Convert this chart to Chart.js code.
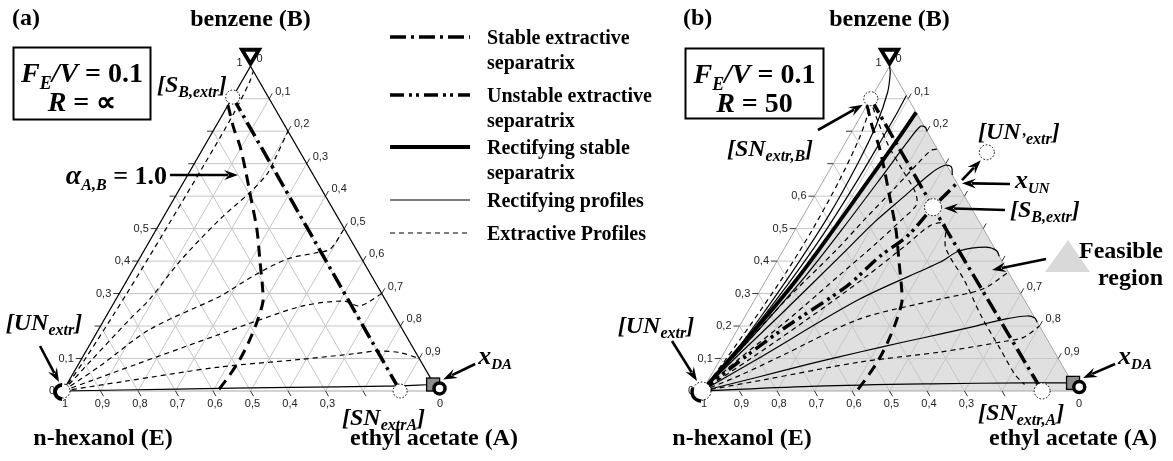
<!DOCTYPE html>
<html lang="en">
<head>
<meta charset="utf-8">
<title>Extractive distillation – ternary maps</title>
<script src="https://cdn.jsdelivr.net/npm/chart.js@4.4.1/dist/chart.umd.min.js"></script>
<style>
  html, body { margin:0; padding:0; background:#fff; }
  #wrap { position:relative; width:1173px; height:461px; }
</style>
</head>
<body>
<div id="wrap"><canvas id="map" width="1173" height="461"></canvas></div>
<script>
// Compositions are [xA, xB] mole fractions (ethyl acetate, benzene); xE = 1 - xA - xB.
const H = Math.sqrt(3) / 2;
const PANEL_A = 0;       // horizontal offset of diagram (a), in side lengths
const PANEL_B = 1.704;   // horizontal offset of diagram (b)

// ---------- shared ----------
const alphaAB = [[0,0.88],[0.05,0.81],[0.095,0.754],[0.15,0.675],[0.2,0.6],[0.268,0.498],[0.327,0.397],[0.372,0.32],[0.396,0.274],[0.411,0.212],[0.42,0.15],[0.423,0.098],[0.42,0.05],[0.413,0]];
const gridSteps = [0.1,0.2,0.3,0.4,0.5,0.6,0.7,0.8,0.9];

// ---------- diagram (a): FE/V = 0.1, R = infinity ----------
const aStableSep = [[0,0.905],[0.45,0.452],[0.899,0]];
const aExtr1 = [[0,0],[0.01,0.1],[0.02,0.3],[0.025,0.5],[0.028,0.7],[0.028,0.85],[0.022,0.95],[0.015,0.985]];
const aExtr2 = [[0,0],[0.03,0.1],[0.068,0.222],[0.09,0.283],[0.112,0.4],[0.154,0.529],[0.193,0.612],[0.21,0.668],[0.208,0.714],[0.2,0.8]];
const aExtr3 = [[0,0],[0.06,0.077],[0.137,0.19],[0.273,0.292],[0.33,0.354],[0.394,0.406],[0.46,0.425],[0.494,0.437],[0.5,0.5]];
const aExtr4 = [[0,0],[0.06,0.032],[0.15,0.08],[0.331,0.175],[0.401,0.212],[0.509,0.262],[0.609,0.277],[0.661,0.262],[0.7,0.3]];
const aExtr5 = [[0,0],[0.15,0.03],[0.382,0.074],[0.591,0.098],[0.72,0.115],[0.776,0.123],[0.84,0.118],[0.9,0.1]];
const aRectLeft = [[0,0],[0,1]];
const aRectRight = [[0,1],[1,0]];
const aRectBottom = [[0,0],[0.3,0.006],[0.6,0.011],[0.85,0.015],[0.977,0.02]];
const aApex = [0,1], aSB = [0,0.905], aSNA = [0.899,0], aUN = [0,0], aXDA = [0.977,0.02], aRing = [1,0.008];

// ---------- diagram (b): FE/V = 0.1, R = 50 ----------
const bRectSep = [[0,0],[0.05,0.2],[0.081,0.345],[0.1,0.48],[0.12,0.65],[0.135,0.78],[0.142,0.858]];
const bRect1 = [[0,0],[0.025,0.1],[0.045,0.25],[0.06,0.4],[0.068,0.55],[0.065,0.7],[0.055,0.82],[0.035,0.92],[0.012,0.98],[0,1]];
const bRect2 = [[0,0],[0.04,0.18],[0.065,0.33],[0.082,0.48],[0.09,0.64],[0.092,0.78],[0.092,0.86],[0.09,0.91]];
const bRect3 = [[0,0],[0.06,0.2],[0.098,0.35],[0.125,0.5],[0.148,0.65],[0.165,0.77],[0.175,0.815],[0.19,0.812],[0.2,0.8]];
const bRect4 = [[0,0],[0.045,0.12],[0.09,0.23],[0.169,0.437],[0.2,0.52],[0.24,0.6],[0.275,0.67],[0.3,0.695],[0.32,0.69],[0.335,0.665]];
const bRect5 = [[0,0],[0.1,0.1],[0.279,0.283],[0.437,0.397],[0.47,0.431],[0.535,0.443],[0.57,0.432],[0.585,0.415]];
const bRect6 = [[0,0],[0.12,0.04],[0.25,0.085],[0.361,0.12],[0.46,0.15],[0.547,0.175],[0.63,0.2],[0.7,0.222],[0.752,0.231],[0.775,0.225],[0.788,0.212]];
const bRect7 = [[0,0],[0.3,0.015],[0.6,0.022],[0.85,0.025],[0.977,0.025]];
const bExtr1 = [[0,0],[0.015,0.1],[0.032,0.25],[0.042,0.37],[0.046,0.5],[0.042,0.65],[0.03,0.78],[0.012,0.87],[0,0.9]];
const bExtr2 = [[0,0],[0.04,0.13],[0.08,0.27],[0.142,0.437],[0.17,0.53],[0.2,0.62],[0.225,0.7],[0.24,0.74],[0.255,0.745]];
const bExtr3 = [[0,0],[0.05,0.1],[0.12,0.22],[0.19,0.36],[0.235,0.45],[0.27,0.53],[0.285,0.575],[0.26,0.615],[0.2,0.675],[0.12,0.755],[0.05,0.835],[0.01,0.885]];
const bExtr4 = [[0,0],[0.08,0.1],[0.17,0.22],[0.26,0.35],[0.32,0.45],[0.355,0.51],[0.39,0.515],[0.43,0.44],[0.53,0.34],[0.63,0.23],[0.73,0.13],[0.81,0.05],[0.85,0.02]];
const bExtr5 = [[0,0],[0.08,0.05],[0.16,0.11],[0.31,0.222],[0.493,0.283],[0.592,0.314],[0.634,0.366]];
const bExtr6 = [[0,0],[0.15,0.035],[0.376,0.089],[0.575,0.12],[0.736,0.154],[0.775,0.165],[0.8,0.2]];
const bUnstableSep = [[0,0],[0.045,0.077],[0.12,0.19],[0.225,0.323],[0.267,0.415],[0.309,0.477],[0.333,0.566],[0.36,0.64]];
const bStableSep = [[0,0.9],[0.333,0.566],[0.62,0.283],[0.907,0]];
const bApex = [0,1], bSNB = [0,0.9], bSB = [0.333,0.566], bSNA = [0.907,0], bXUN = [0.36,0.64], bUNp = [0.392,0.735], bUN = [0,0], bXDA = [0.977,0.025], bRing = [1,0.012];

// ---------- tick labels ----------
const leftTicksA = [0,0.1,0.3,0.4,0.5,1];
const leftTicksB = [0,0.1,0.2,0.3,0.4,0.5,0.6,1];
const rightTicksA = [0,0.1,0.2,0.3,0.4,0.5,0.6,0.7,0.8,0.9];
const rightTicksB = [0,0.1,0.2,0.7,0.8,0.9];
const bottomTicks = [1,0.9,0.8,0.7,0.6,0.5,0.4,0.3,0];

// ---------- legend ----------
const legendKinds = ['stableSep','unstableSep','rectSep','rect','extr'];
const legendText = [['Stable extractive','separatrix'],['Unstable extractive','separatrix'],['Rectifying stable','separatrix'],['Rectifying profiles'],['Extractive Profiles']];

const STYLE = {
  extr:        { borderWidth: 1.2, borderDash: [5, 4] },
  rect:        { borderWidth: 1.2, borderDash: [] },
  rectSep:     { borderWidth: 3.8, borderDash: [] },
  stableSep:   { borderWidth: 3.5, borderDash: [16, 5, 3, 5] },
  unstableSep: { borderWidth: 3.5, borderDash: [14, 5, 3, 4, 3, 5] },
  alpha:       { borderWidth: 3,   borderDash: [11, 7] }
};

function toXY(p, off) { return { x: p[0] + p[1] / 2 + off, y: p[1] * H }; }

function curve(label, pts, off, kind) {
  return Object.assign({
    label, data: pts.map(p => toXY(p, off)), showLine: true, pointRadius: 0,
    borderColor: '#000', backgroundColor: '#000', fill: false,
    tension: (kind === 'stableSep' || pts.length < 3) ? 0 : 0.3, borderCapStyle: 'butt'
  }, STYLE[kind]);
}

const datasets = [
  curve('a rect left', aRectLeft, PANEL_A, 'rect'),
  curve('a rect right', aRectRight, PANEL_A, 'rect'),
  curve('a rect bottom', aRectBottom, PANEL_A, 'rect'),
  curve('a extr 1', aExtr1, PANEL_A, 'extr'),
  curve('a extr 2', aExtr2, PANEL_A, 'extr'),
  curve('a extr 3', aExtr3, PANEL_A, 'extr'),
  curve('a extr 4', aExtr4, PANEL_A, 'extr'),
  curve('a extr 5', aExtr5, PANEL_A, 'extr'),
  curve('a alpha', alphaAB, PANEL_A, 'alpha'),
  curve('a stable sep', aStableSep, PANEL_A, 'stableSep'),

  curve('b extr 1', bExtr1, PANEL_B, 'extr'),
  curve('b extr 2', bExtr2, PANEL_B, 'extr'),
  curve('b extr 3', bExtr3, PANEL_B, 'extr'),
  curve('b extr 4', bExtr4, PANEL_B, 'extr'),
  curve('b extr 5', bExtr5, PANEL_B, 'extr'),
  curve('b extr 6', bExtr6, PANEL_B, 'extr'),
  curve('b rect 1', bRect1, PANEL_B, 'rect'),
  curve('b rect 2', bRect2, PANEL_B, 'rect'),
  curve('b rect 3', bRect3, PANEL_B, 'rect'),
  curve('b rect 4', bRect4, PANEL_B, 'rect'),
  curve('b rect 5', bRect5, PANEL_B, 'rect'),
  curve('b rect 6', bRect6, PANEL_B, 'rect'),
  curve('b rect 7', bRect7, PANEL_B, 'rect'),
  curve('b rect sep', bRectSep, PANEL_B, 'rectSep'),
  curve('b alpha', alphaAB, PANEL_B, 'alpha'),
  curve('b unstable sep', bUnstableSep, PANEL_B, 'unstableSep'),
  curve('b stable sep', bStableSep, PANEL_B, 'stableSep')
];

const SERIF = '"Liberation Serif","Times New Roman",serif';
const SANS = '"Liberation Sans",Arial,sans-serif';

function P(chart, p, off) {
  const t = toXY(p, off);
  return [chart.scales.x.getPixelForValue(t.x), chart.scales.y.getPixelForValue(t.y)];
}
function seg(ctx, a, b) { ctx.beginPath(); ctx.moveTo(a[0], a[1]); ctx.lineTo(b[0], b[1]); ctx.stroke(); }
function fmt(v) { return v === 0 ? '0' : v === 1 ? '1' : v.toFixed(1).replace('.', ','); }

// rich text: parts {t, s, i (italic), dy (subscript shift)}
const it = (t, s) => ({ t, s, i: true, dy: 0 });
const bd = (t, s) => ({ t, s, i: false, dy: 0 });
const sb = (t, s, dy) => ({ t, s, i: true, dy });
function rich(ctx, parts, x, y, align) {
  let w = 0;
  parts.forEach(p => { ctx.font = (p.i ? 'italic ' : '') + 'bold ' + p.s + 'px ' + SERIF; p.w = ctx.measureText(p.t).width; w += p.w; });
  let cx = align === 'center' ? x - w / 2 : align === 'right' ? x - w : x;
  ctx.textAlign = 'left'; ctx.textBaseline = 'alphabetic'; ctx.fillStyle = '#000';
  parts.forEach(p => { ctx.font = (p.i ? 'italic ' : '') + 'bold ' + p.s + 'px ' + SERIF; ctx.fillText(p.t, cx, y + p.dy); cx += p.w; });
}
function plain(ctx, t, x, y, align, size) {
  ctx.font = 'bold ' + (size || 24) + 'px ' + SERIF; ctx.fillStyle = '#000';
  ctx.textAlign = align; ctx.textBaseline = 'alphabetic'; ctx.fillText(t, x, y);
}
function arrow(ctx, x1, y1, x2, y2) {
  const a = Math.atan2(y2 - y1, x2 - x1), c = Math.cos(a), s = Math.sin(a);
  const L = 14, W = 5;
  ctx.save(); ctx.setLineDash([]); ctx.strokeStyle = '#000'; ctx.fillStyle = '#000'; ctx.lineWidth = 2.6;
  ctx.beginPath(); ctx.moveTo(x1, y1); ctx.lineTo(x2 - (L - 4) * c, y2 - (L - 4) * s); ctx.stroke();
  ctx.beginPath(); ctx.moveTo(x2, y2);
  ctx.lineTo(x2 - L * c - W * s, y2 - L * s + W * c);
  ctx.lineTo(x2 - (L - 5) * c, y2 - (L - 5) * s);
  ctx.lineTo(x2 - L * c + W * s, y2 - L * s - W * c);
  ctx.closePath(); ctx.fill(); ctx.restore();
}
function dotted(ctx, c, r) {
  ctx.save(); ctx.beginPath(); ctx.arc(c[0], c[1], r, 0, Math.PI * 2);
  ctx.fillStyle = '#fff'; ctx.fill();
  ctx.setLineDash([1.6, 1.8]); ctx.lineWidth = 1; ctx.strokeStyle = '#000'; ctx.stroke(); ctx.restore();
}
function nabla(ctx, apex) {
  const cx = apex[0], cy = apex[1] - 10;
  ctx.save(); ctx.setLineDash([]); ctx.lineWidth = 3.8; ctx.lineJoin = 'miter'; ctx.strokeStyle = '#000'; ctx.fillStyle = '#fff';
  ctx.beginPath(); ctx.moveTo(cx - 8.5, cy - 6.5); ctx.lineTo(cx + 8.5, cy - 6.5); ctx.lineTo(cx, cy + 7.5); ctx.closePath();
  ctx.fill(); ctx.stroke(); ctx.restore();
}
function unNode(ctx, c, r, angFrom, angTo, w) {
  dotted(ctx, c, r);
  ctx.save(); ctx.setLineDash([]); ctx.lineWidth = w; ctx.strokeStyle = '#000';
  ctx.beginPath(); ctx.arc(c[0] - 1, c[1] + 1, r, angFrom, angTo); ctx.stroke(); ctx.restore();
}
function xdaNode(ctx, sq, ring) {
  ctx.save(); ctx.setLineDash([]);
  ctx.fillStyle = '#8c8c8c'; ctx.strokeStyle = '#000'; ctx.lineWidth = 1.3;
  ctx.fillRect(sq[0] - 6.5, sq[1] - 6.5, 13, 13); ctx.strokeRect(sq[0] - 6.5, sq[1] - 6.5, 13, 13);
  ctx.beginPath(); ctx.arc(ring[0], ring[1], 5.5, 0, Math.PI * 2); ctx.fillStyle = '#fff'; ctx.fill();
  ctx.lineWidth = 3.5; ctx.stroke(); ctx.restore();
}

function drawFrame(ctx, chart, off, leftT, rightT) {
  ctx.save();
  ctx.strokeStyle = '#c6c6c6'; ctx.lineWidth = 1;
  for (const v of gridSteps) {
    seg(ctx, P(chart, [0, v], off), P(chart, [1 - v, v], off));
    seg(ctx, P(chart, [v, 0], off), P(chart, [v, 1 - v], off));
    seg(ctx, P(chart, [v, 0], off), P(chart, [0, v], off));
  }
  const e = P(chart, [0, 0], off), b = P(chart, [0, 1], off), a = P(chart, [1, 0], off);
  ctx.strokeStyle = '#a6a6a6';
  ctx.beginPath(); ctx.moveTo(e[0], e[1]); ctx.lineTo(b[0], b[1]); ctx.lineTo(a[0], a[1]); ctx.closePath(); ctx.stroke();
  // tick marks
  ctx.strokeStyle = '#333';
  for (const v of gridSteps) {
    const l = P(chart, [0, v], off); seg(ctx, l, [l[0] - 6, l[1]]);
    const r = P(chart, [v, 1 - v], off); seg(ctx, r, [r[0] + 3, r[1] - 5.2]);
    const d = P(chart, [v, 0], off); seg(ctx, d, [d[0] + 3, d[1] + 5.2]);
  }
  // tick labels
  ctx.fillStyle = '#222'; ctx.font = '11px ' + SANS; ctx.textBaseline = 'middle';
  ctx.textAlign = 'right';
  for (const v of leftT) { const l = P(chart, [0, v], off); ctx.fillText(fmt(v), l[0] - 8, l[1] - (v === 1 ? 3 : 0)); }
  ctx.textAlign = 'left';
  for (const v of rightT) { const r = P(chart, [v, 1 - v], off); ctx.fillText(fmt(v), r[0] + 6, r[1] - 7); }
  ctx.textAlign = 'center';
  for (const v of bottomTicks) { const d = P(chart, [1 - v, 0], off); ctx.fillText(fmt(v), d[0] + 2, d[1] + 13); }
  ctx.restore();
}

function drawFeasible(ctx, chart, off) {
  const poly = [...bRectSep, [1, 0]];
  ctx.save(); ctx.beginPath();
  poly.forEach((p, i) => { const q = P(chart, p, off); if (i) ctx.lineTo(q[0], q[1]); else ctx.moveTo(q[0], q[1]); });
  ctx.closePath(); ctx.fillStyle = '#e0e0e0'; ctx.fill(); ctx.restore();
}

function drawLegend(ctx) {
  const rows = [37, 95, 147, 200, 233];
  ctx.save();
  legendKinds.forEach((k, i) => {
    const st = STYLE[k];
    ctx.strokeStyle = '#000'; ctx.lineWidth = st.borderWidth; ctx.setLineDash(st.borderDash); ctx.lineCap = 'butt';
    ctx.beginPath(); ctx.moveTo(390, rows[i]); ctx.lineTo(470, rows[i]); ctx.stroke();
    ctx.setLineDash([]);
    legendText[i].forEach((t, j) => plain(ctx, t, 487, rows[i] + 7 + j * 25, 'left', 20));
  });
  ctx.restore();
}

function box(ctx, x, y, w, h, line2, cx) {
  ctx.save(); ctx.lineWidth = 2; ctx.strokeStyle = '#000'; ctx.strokeRect(x, y, w, h); ctx.restore();
  rich(ctx, [it('F', 28), sb('E', 18, 7), it('/V', 28), bd(' = 0.1', 28)], cx, y + 34, 'center');
  rich(ctx, line2, cx, y + 63, 'center');
}

const decor = {
  id: 'ternaryDecor',
  beforeDatasetsDraw(chart) {
    const ctx = chart.ctx;
    drawFeasible(ctx, chart, PANEL_B);
    drawFrame(ctx, chart, PANEL_A, leftTicksA, rightTicksA);
    drawFrame(ctx, chart, PANEL_B, leftTicksB, rightTicksB);
  },
  afterDatasetsDraw(chart) {
    const ctx = chart.ctx;
    // ----- diagram (a) -----
    const aE = P(chart, aUN, PANEL_A), aB = P(chart, aApex, PANEL_A), aA = P(chart, [1, 0], PANEL_A);
    nabla(ctx, aB);
    dotted(ctx, P(chart, aSB, PANEL_A), 7);
    dotted(ctx, P(chart, aSNA, PANEL_A), 7);
    unNode(ctx, aE, 7, 0.5 * Math.PI, 1.5 * Math.PI, 4);
    const aSq = P(chart, aXDA, PANEL_A);
    xdaNode(ctx, aSq, P(chart, aRing, PANEL_A));

    plain(ctx, '(a)', 12, 25, 'left');
    plain(ctx, 'benzene (B)', aB[0], 26, 'center');
    box(ctx, 13.5, 47.5, 137, 72, [it('R', 28), bd(' = ∝', 28)], 82);
    rich(ctx, [it('[S', 24), sb('B,extr', 16, 5), it(']', 24)], 157, 92, 'left');
    rich(ctx, [it('α', 28), sb('A,B', 16, 6), bd(' = 1.0', 26)], 167, 184, 'right');
    arrow(ctx, 170, 175, 238, 175);
    rich(ctx, [it('[UN', 24), sb('extr', 16, 5), it(']', 24)], 44, 330, 'center');
    arrow(ctx, 40, 346, aE[0] - 4, aE[1] - 9);
    rich(ctx, [it('[SN', 24), sb('extrA', 16, 5), it(']', 24)], 342, 425, 'left');
    rich(ctx, [it('x', 26), sb('DA', 15, 5)], aSq[0] + 45, 364, 'left');
    arrow(ctx, aSq[0] + 42, 364, aSq[0] + 10, aSq[1] - 5);
    plain(ctx, 'n-hexanol (E)', aE[0] + 40, 445, 'center');
    plain(ctx, 'ethyl acetate (A)', aA[0] - 4, 445, 'center');

    // ----- legend -----
    drawLegend(ctx);

    // ----- diagram (b) -----
    const bE = P(chart, bUN, PANEL_B), bB = P(chart, bApex, PANEL_B), bA = P(chart, [1, 0], PANEL_B);
    nabla(ctx, bB);
    const snb = P(chart, bSNB, PANEL_B), sbp = P(chart, bSB, PANEL_B), sna = P(chart, bSNA, PANEL_B);
    const xun = P(chart, bXUN, PANEL_B), unp = P(chart, bUNp, PANEL_B);
    dotted(ctx, snb, 7);
    dotted(ctx, sbp, 8.5);
    dotted(ctx, sna, 8);
    dotted(ctx, unp, 7.5);
    unNode(ctx, bE, 9, 0.5 * Math.PI, 1.15 * Math.PI, 3.4);
    const bSq = P(chart, bXDA, PANEL_B);
    xdaNode(ctx, bSq, P(chart, bRing, PANEL_B));

    plain(ctx, '(b)', 683, 25, 'left');
    plain(ctx, 'benzene (B)', bB[0], 26, 'center');
    box(ctx, 685.5, 48.5, 138, 70, [it('R', 28), bd(' = 50', 28)], 754.5);
    rich(ctx, [it('[SN', 24), sb('extr,B', 16, 5), it(']', 24)], 770, 156, 'center');
    arrow(ctx, 818, 130, snb[0] - 8, snb[1] + 6);
    rich(ctx, [it('[UN', 24), sb('’extr', 16, 5), it(']', 24)], 978, 139, 'left');
    arrow(ctx, xun[0] + 5, xun[1] - 3, unp[0] - 6, unp[1] + 8);
    rich(ctx, [it('x', 26), sb('UN', 15, 5)], 1015, 188, 'left');
    arrow(ctx, 1010, 184, xun[0] + 5, xun[1]);
    rich(ctx, [it('[S', 24), sb('B,extr', 16, 5), it(']', 24)], 1010, 217, 'left');
    arrow(ctx, 1005, 210, sbp[0] + 11, sbp[1] + 1);
    // feasible-region key
    ctx.save(); ctx.fillStyle = '#d9d9d9';
    ctx.beginPath(); ctx.moveTo(1045, 272); ctx.lineTo(1090, 272); ctx.lineTo(1068, 240); ctx.closePath(); ctx.fill(); ctx.restore();
    plain(ctx, 'Feasible', 1163, 258, 'right');
    plain(ctx, 'region', 1163, 285, 'right');
    arrow(ctx, 1046, 259, 992, 270);
    rich(ctx, [it('[UN', 24), sb('extr', 16, 5), it(']', 24)], 656, 333, 'center');
    arrow(ctx, 672, 341, bE[0] - 5, bE[1] - 10);
    rich(ctx, [it('[SN', 24), sb('extr,A', 16, 5), it(']', 24)], 978, 420, 'left');
    rich(ctx, [it('x', 26), sb('DA', 15, 5)], bSq[0] + 45, 364, 'left');
    arrow(ctx, bSq[0] + 42, 364, bSq[0] + 10, bSq[1] - 5);
    plain(ctx, 'n-hexanol (E)', bE[0] + 40, 445, 'center');
    plain(ctx, 'ethyl acetate (A)', bA[0] - 4, 445, 'center');
  }
};

new Chart(document.getElementById('map'), {
  type: 'scatter',
  data: { datasets },
  options: {
    responsive: false,
    maintainAspectRatio: false,
    animation: false,
    devicePixelRatio: 1,
    events: [],
    layout: { padding: 0 },
    scales: {
      x: { type: 'linear', min: -0.168, max: 2.96, display: false },
      y: { type: 'linear', min: -0.18667, max: 1.04267, display: false }
    },
    plugins: { legend: { display: false }, tooltip: { enabled: false } }
  },
  plugins: [decor]
});
</script>
</body>
</html>
